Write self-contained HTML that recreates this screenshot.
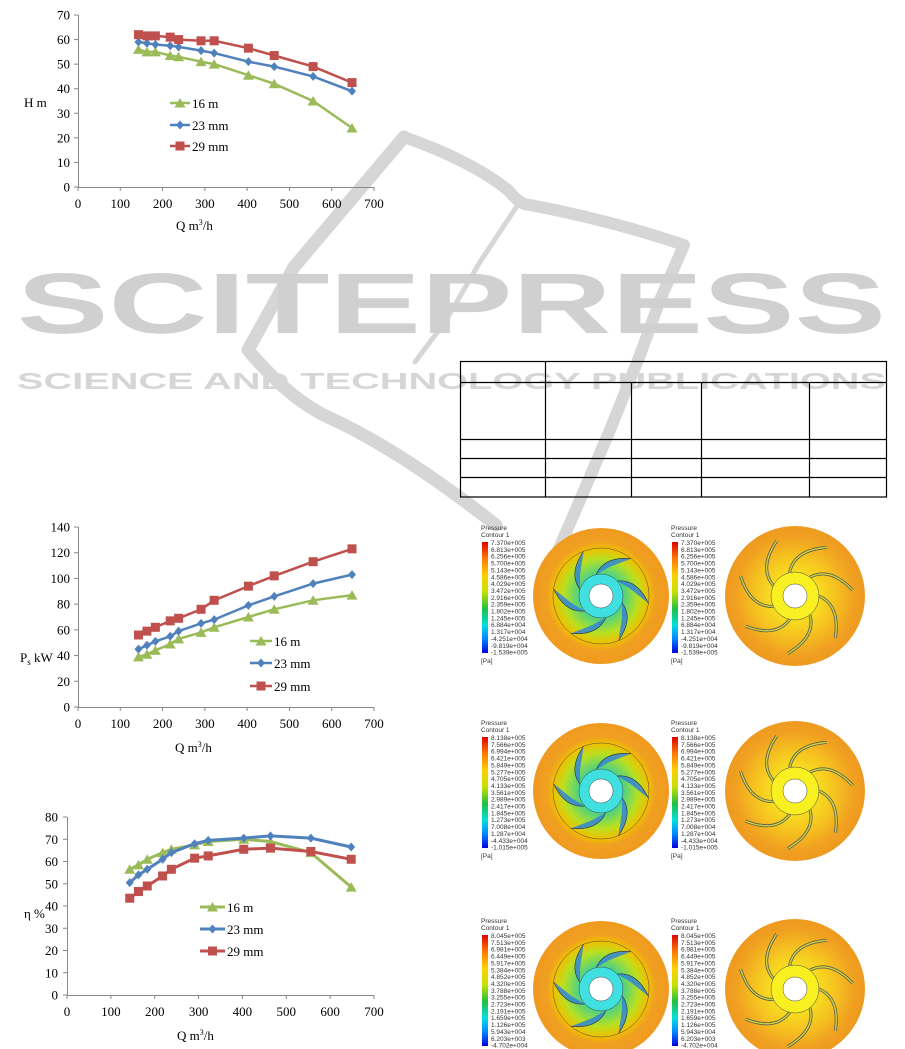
<!DOCTYPE html>
<html><head><meta charset="utf-8"><style>
html,body{margin:0;padding:0;background:#fff;}
svg{display:block;font-family:"Liberation Serif",serif;}
</style></head><body>
<svg id="s" width="905" height="1049" viewBox="0 0 905 1049" xmlns="http://www.w3.org/2000/svg">
<defs>
<linearGradient id="bar" x1="0" y1="0" x2="0" y2="1">
<stop offset="0" stop-color="#e00000"/><stop offset="0.15" stop-color="#ff7a00"/><stop offset="0.3" stop-color="#ffd000"/><stop offset="0.45" stop-color="#c8e000"/><stop offset="0.6" stop-color="#20c040"/><stop offset="0.75" stop-color="#00e0e0"/><stop offset="0.88" stop-color="#0080ff"/><stop offset="1" stop-color="#0000e0"/>
</linearGradient>
<radialGradient id="lft"><stop offset="0.3" stop-color="#40d090"/><stop offset="0.55" stop-color="#b8e020"/><stop offset="0.7" stop-color="#f0c000"/><stop offset="0.8" stop-color="#f0a020"/><stop offset="1" stop-color="#f09a20"/></radialGradient>
<radialGradient id="rgt"><stop offset="0.3" stop-color="#f8e020"/><stop offset="0.6" stop-color="#f5c020"/><stop offset="0.85" stop-color="#f0a020"/><stop offset="1" stop-color="#ee9a20"/></radialGradient>
</defs>
<g id="wm" fill="none" stroke="#d6d6d6" stroke-linecap="round" stroke-linejoin="round">
<path d="M404,137 L294,267 L248,350 Q290,400 330,418 Q400,450 496,525" stroke-width="13"/>
<path d="M404,137 Q470,160 508,190 Q520,205 530,205 Q610,220 684,245 L660,300 L640,355 L610,430 L580,500 L554,560" stroke-width="12"/>
<path d="M519,203 L480,262 L445,322 L415,362" stroke-width="5"/>
</g>
<text x="17" y="333" font-family="Liberation Sans,sans-serif" font-weight="bold" font-size="86" fill="#d0d0d0" textLength="869" lengthAdjust="spacingAndGlyphs">SCITEPRESS</text>
<text x="17" y="389" font-family="Liberation Sans,sans-serif" font-weight="bold" font-size="23" fill="#d6d6d6" textLength="869" lengthAdjust="spacingAndGlyphs">SCIENCE AND TECHNOLOGY PUBLICATIONS</text>
<g id="charts"></g>
<g stroke="#000" stroke-width="1.2" fill="none">
<rect x="460.5" y="361.5" width="426" height="135.5"/>
<line x1="460" y1="382.5" x2="887" y2="382.5"/>
<line x1="460" y1="439.5" x2="887" y2="439.5"/>
<line x1="460" y1="458.5" x2="887" y2="458.5"/>
<line x1="460" y1="477.5" x2="887" y2="477.5"/>
<line x1="545.5" y1="361" x2="545.5" y2="497"/>
<line x1="631.5" y1="382" x2="631.5" y2="497"/>
<line x1="701.5" y1="382" x2="701.5" y2="497"/>
<line x1="809.5" y1="382" x2="809.5" y2="497"/>
</g>
<g id="cont"></g>
</svg>
<script>
var NS="http://www.w3.org/2000/svg";
function el(p,t,a,txt){var e=document.createElementNS(NS,t);for(var k in a)e.setAttribute(k,a[k]);if(txt!==undefined)e.textContent=txt;p.appendChild(e);return e;}
var g=document.getElementById('charts');
var Q=[143,163,183,218,238,291,322,403,464,556,648];
var charts=[
{x0:78,x1:374,y0:187,y1:15,ym:70,st:10,lx:70,
 d:[[56,55,55,53.5,53,51,50,45.5,42,35,24],[59,58.5,58,57.5,57,55.5,54.5,51,49,45,39],[62,61.5,61.5,61,60,59.5,59.5,56.5,53.5,49,42.5]],
 leg:[170,190,103,125,146],labs:["16 m","23 mm","29 mm"],yl:["H m",24,107],xl:[176,230],lw:2.5},
{x0:78,x1:374,y0:707,y1:527,ym:140,st:20,lx:70,
 d:[[39,41,44,49,53,58,62,70,76,83,87],[45,48,51,55,59,65,68,79,86,96,103],[56,59,62,67,69,76,83,94,102,113,123]],
 leg:[250,272,641,663,686],labs:["16 m","23 mm","29 mm"],yl:["Ps",20,662],xl:[175,752],lw:2.5},
{x0:67,x1:374,y0:995,y1:817,ym:80,st:10,lx:58,
 d:[[56.5,58.5,61,64,65.5,67.5,69,70,69,64,48.5],[50.5,54,56.5,61,64,68,69.5,70.5,71.5,70.5,66.5],[43.5,46.5,49,53.5,56.5,61.5,62.5,65.5,66,64.5,61]],
 leg:[200,225,907,929,951],labs:["16 m","23 mm","29 mm"],yl:["η %",24,918],xl:[177,1040],lw:3}
];
var cols=["#9bbb59","#4f81bd","#c0504d"];
function mark(p,k,x,y){
 if(k==0)el(p,'polygon',{points:(x)+','+(y-5)+' '+(x+5.5)+','+(y+4.5)+' '+(x-5.5)+','+(y+4.5),fill:cols[0]});
 else if(k==1)el(p,'polygon',{points:x+','+(y-4.5)+' '+(x+4)+','+y+' '+x+','+(y+4.5)+' '+(x-4)+','+y,fill:cols[1]});
 else el(p,'rect',{x:x-4.5,y:y-4.5,width:9,height:9,fill:cols[2]});
}
charts.forEach(function(c){
 var sx=(c.x1-c.x0)/700, sy=(c.y0-c.y1)/c.ym;
 el(g,'line',{x1:c.x0,y1:c.y0+0.5,x2:c.x1,y2:c.y0+0.5,stroke:'#888'});
 el(g,'line',{x1:c.x0+0.5,y1:c.y1,x2:c.x0+0.5,y2:c.y0,stroke:'#888'});
 for(var v=0;v<=c.ym;v+=c.st){var y=c.y0-v*sy;
  el(g,'line',{x1:c.x0-4,y1:y,x2:c.x0,y2:y,stroke:'#888'});
  el(g,'text',{x:c.lx,y:y+4.5,'text-anchor':'end','font-size':13},String(v));}
 for(var v=0;v<=700;v+=100){var x=c.x0+v*sx;
  el(g,'line',{x1:x,y1:c.y0,x2:x,y2:c.y0+4,stroke:'#888'});
  el(g,'text',{x:x,y:c.y0+21,'text-anchor':'middle','font-size':13},String(v));}
 for(var k=0;k<3;k++){
  var pts=Q.map(function(q,i){return (c.x0+q*sx).toFixed(1)+','+(c.y0-c.d[k][i]*sy).toFixed(1);});
  el(g,'polyline',{points:pts.join(' '),fill:'none',stroke:cols[k],'stroke-width':c.lw});
  Q.forEach(function(q,i){mark(g,k,c.x0+q*sx,c.y0-c.d[k][i]*sy);});
  var ly=c.leg[2+k];
  el(g,'line',{x1:c.leg[0],y1:ly,x2:c.leg[1],y2:ly,stroke:cols[k],'stroke-width':c.lw});
  mark(g,k,(c.leg[0]+c.leg[1])/2,ly);
  el(g,'text',{x:c.leg[1]+2,y:ly+5,'font-size':13},c.labs[k]);
 }
 if(c.yl[0]=="Ps"){var t=el(g,'text',{x:c.yl[1],y:c.yl[2],'font-size':13},'P');el(t,'tspan',{'font-size':9,dy:3},'s');el(t,'tspan',{dy:-3},' kW');}
 else el(g,'text',{x:c.yl[1],y:c.yl[2],'font-size':13},c.yl[0]);
 var t=el(g,'text',{x:c.xl[0],y:c.xl[1],'font-size':13},'Q m');el(t,'tspan',{'font-size':8,dy:-5},'3');el(t,'tspan',{dy:5},'/h');
});
var C=document.getElementById('cont');
var vals=[
["7.370e+005","6.813e+005","6.256e+005","5.700e+005","5.143e+005","4.586e+005","4.029e+005","3.472e+005","2.916e+005","2.359e+005","1.802e+005","1.245e+005","6.884e+004","1.317e+004","-4.251e+004","-9.819e+004","-1.539e+005"],
["8.138e+005","7.566e+005","6.994e+005","6.421e+005","5.849e+005","5.277e+005","4.705e+005","4.133e+005","3.561e+005","2.989e+005","2.417e+005","1.845e+005","1.273e+005","7.008e+004","1.287e+004","-4.433e+004","-1.015e+005"],
["8.045e+005","7.513e+005","6.981e+005","6.449e+005","5.917e+005","5.384e+005","4.852e+005","4.320e+005","3.788e+005","3.255e+005","2.723e+005","2.191e+005","1.659e+005","1.126e+005","5.943e+004","6.203e+003","-4.702e+004"]];
var rows=[596,791,989];
rows.forEach(function(cy,r){
 [481,671].forEach(function(lx){
  var top=cy-68;
  el(C,'text',{x:lx,y:top+2,'font-size':6.5,'font-family':'Liberation Sans,sans-serif',fill:'#333'},'Pressure');
  el(C,'text',{x:lx,y:top+9,'font-size':6.5,'font-family':'Liberation Sans,sans-serif',fill:'#333'},'Contour 1');
  el(C,'rect',{x:lx+1,y:top+14,width:6,height:111,fill:'url(#bar)'});
  vals[r].forEach(function(v,i){el(C,'text',{x:lx+10,y:top+17+i*6.85,'font-size':6.5,'font-family':'Liberation Sans,sans-serif',fill:'#333'},v);});
  el(C,'text',{x:lx,y:top+135,'font-size':6.5,'font-family':'Liberation Sans,sans-serif',fill:'#333'},'[Pa]');
 });
 var lx=601, rx=795;
 el(C,'circle',{cx:lx,cy:cy,r:68,fill:'url(#lft)'});
 el(C,'circle',{cx:lx,cy:cy,r:48,fill:'none',stroke:'#444','stroke-width':0.5});
 for(var b=0;b<6;b++){var a=b*Math.PI/3+0.3;
  var x1=lx+22*Math.cos(a),y1=cy+22*Math.sin(a),x2=lx+48*Math.cos(a+0.9),y2=cy+48*Math.sin(a+0.9),xm=lx+40*Math.cos(a+0.3),ym=cy+40*Math.sin(a+0.3);
  el(C,'path',{d:'M'+x1+','+y1+' Q'+xm+','+ym+' '+x2+','+y2+' L'+(lx+30*Math.cos(a+0.5))+','+(cy+30*Math.sin(a+0.5))+'Z',fill:'#2a80e0',opacity:0.8});
  el(C,'path',{d:'M'+x1+','+y1+' Q'+xm+','+ym+' '+x2+','+y2,fill:'none',stroke:'#333','stroke-width':0.6});}
 el(C,'circle',{cx:lx,cy:cy,r:22,fill:'#40e0e0',stroke:'#444','stroke-width':0.5});
 el(C,'circle',{cx:lx,cy:cy,r:12,fill:'#fff',stroke:'#444','stroke-width':0.5});
 el(C,'circle',{cx:rx,cy:cy,r:70,fill:'url(#rgt)'});
 for(var b=0;b<7;b++){var a=b*2*Math.PI/7;
  var x1=rx+24*Math.cos(a),y1=cy+24*Math.sin(a),x2=rx+58*Math.cos(a+0.8),y2=cy+58*Math.sin(a+0.8),xm=rx+46*Math.cos(a+0.2),ym=cy+46*Math.sin(a+0.2);
  el(C,'path',{d:'M'+x1+','+y1+' Q'+xm+','+ym+' '+x2+','+y2,fill:'none',stroke:'#555','stroke-width':3});
  el(C,'path',{d:'M'+x1+','+y1+' Q'+xm+','+ym+' '+x2+','+y2,fill:'none',stroke:'#c8d040','stroke-width':1.5});}
 el(C,'circle',{cx:rx,cy:cy,r:24,fill:'#f8f020',stroke:'#444','stroke-width':0.5});
 el(C,'circle',{cx:rx,cy:cy,r:12,fill:'#fff',stroke:'#444','stroke-width':0.5});
});
</script>
</body></html>
